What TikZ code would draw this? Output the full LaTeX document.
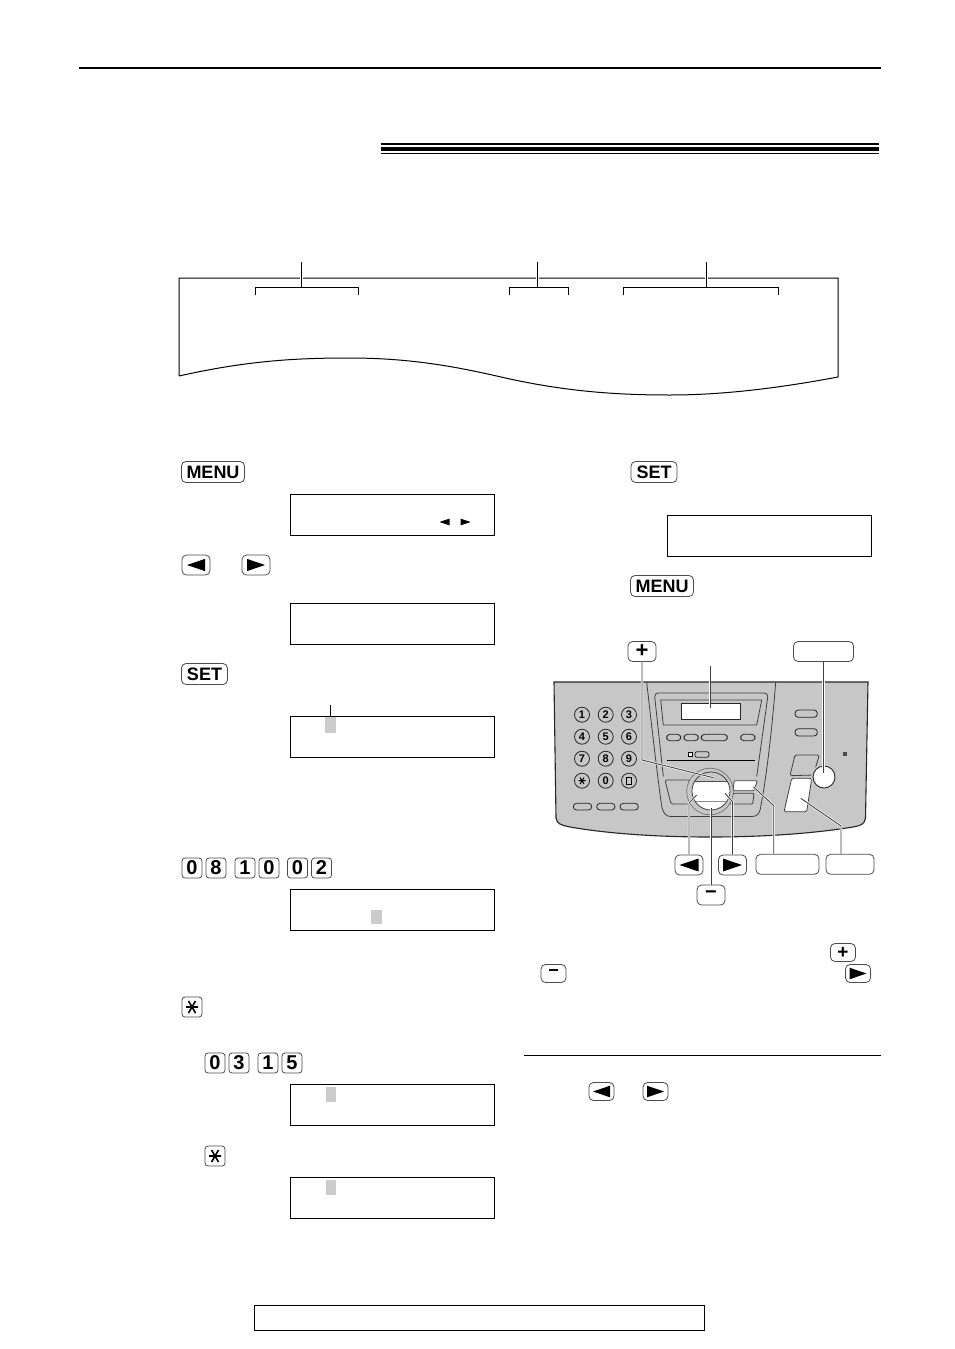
\documentclass[tikz,border=0pt]{standalone}
\usepackage{fontspec}
\setmainfont{Liberation Sans}
\definecolor{panelgray}{gray}{0.78}
\definecolor{cursorgray}{gray}{0.8}
\definecolor{keyedge}{gray}{0.3}
\tikzset{
  keybox/.style={draw=keyedge,line width=0.8pt,rounded corners=4.5pt,fill=white,inner sep=0pt,font=\bfseries\fontsize{18}{18}\selectfont},
  digitkey/.style={keybox,rounded corners=3pt,font=\bfseries\fontsize{20}{20}\selectfont},
  lcdbox/.style={draw=black,line width=1pt,fill=none},
  cursor/.style={fill=cursorgray,draw=none},
  pline/.style={draw=black,line width=1pt},
  partline/.style={draw=black!75,line width=0.8pt},
  wired/.style={draw=black!75,line width=0.9pt,preaction={draw=white,line width=2.2pt}},
  padkey/.style={circle,draw=black!85,line width=0.8pt,fill=panelgray,minimum size=15pt,inner sep=0pt,font=\bfseries\fontsize{11}{11}\selectfont},
  oval/.style={draw=black!85,line width=0.8pt,rounded corners=3.3pt,fill=panelgray},
  tip/.style={fill=black,draw=none}
}
\newcommand{\keyk}[6]{\node[keybox,minimum width=#4pt,minimum height=#5pt] (#1) at (#2,#3) {#6};}
\newcommand{\digit}[4]{\node[digitkey,minimum width=20pt,minimum height=20pt] (#1) at (#2,#3) {#4};}
\newcommand{\lefttip}[3]{\fill[tip] (#1-#3,#2) -- (#1+#3,#2-#3*0.68) -- (#1+#3,#2+#3*0.68) -- cycle;}
\newcommand{\righttip}[3]{\fill[tip] (#1+#3,#2) -- (#1-#3,#2-#3*0.68) -- (#1-#3,#2+#3*0.68) -- cycle;}
\newcommand{\starmark}[2]{\draw[black,line width=1.6pt] (#1-6,#2) -- (#1+6,#2) (#1-3.5,#2-6) -- (#1+3.5,#2+6) (#1+3.5,#2-6) -- (#1-3.5,#2+6);}
\newcommand{\lcd}[3]{\node[lcdbox,minimum width=204pt,minimum height=41pt,inner sep=0pt] (#1) at (#2,#3) {};}
\begin{document}
\begin{tikzpicture}[x=1pt,y=-1pt]
\path[use as bounding box,fill=white] (0,0) rectangle (954,1349);
% page furniture
\fill[black] (79,67.2) rectangle (881,68.8);
\fill[black] (381,143) rectangle (879,145.2);
\fill[black] (381,147) rectangle (879,151);
\fill[black] (381,152.8) rectangle (879,154);
\draw[black,line width=1pt] (254,1305.5) rectangle (704.5,1330.5);
% paper sample
\draw[pline] (179,376) -- (179,278) -- (838,278) -- (838,377)
  .. controls (790,386) and (730,395) .. (670,395)
  .. controls (620,395) and (570,392) .. (510,379)
  .. controls (470,370) and (420,358) .. (350,358)
  .. controls (300,358) and (250,360) .. (179,376);
\coordinate (ba) at (301.5,262); \coordinate (bb) at (537.5,262); \coordinate (bc) at (706,262);
\coordinate (baj) at (301.5,287.5); \coordinate (bbj) at (537.5,287.5); \coordinate (bcj) at (706,287.5);
\draw[pline,preaction={draw=white,line width=3pt}] (ba) -- (baj);
\draw[pline,preaction={draw=white,line width=3pt}] (bb) -- (bbj);
\draw[pline,preaction={draw=white,line width=3pt}] (bc) -- (bcj);
\draw[pline] (255,295) -- (255,287.5) -- (358.5,287.5) -- (358.5,295);
\draw[pline] (509,295) -- (509,287.5) -- (568.5,287.5) -- (568.5,295);
\draw[pline] (623.5,295) -- (623.5,287.5) -- (778.5,287.5) -- (778.5,295);
% LCD displays
\lcd{d1}{392.5}{515}
\lcd{d2}{392.5}{624}
\lcd{d3}{392.5}{737}
\lcd{d4}{392.5}{910}
\lcd{d5}{392.5}{1105}
\lcd{d6}{392.5}{1198}
\lcd{d7}{769.5}{536}
\fill[cursor] (325,717) rectangle (336,733);
\fill[cursor] (371,910) rectangle (382,924);
\fill[cursor] (326,1087) rectangle (336,1102);
\fill[cursor] (326,1180) rectangle (336,1195);
\lefttip{444.5}{522}{5}
\righttip{465.5}{522}{5}
\coordinate (ct) at (330.5,705); \coordinate (cb) at (330.5,717);
\draw[pline] (ct) -- (cb);
% left keys
\keyk{menua}{213}{472}{63}{21}{MENU}
\keyk{lefta}{196}{565}{28}{20}{}\lefttip{196}{565}{9}
\keyk{righta}{256}{565}{28}{20}{}\righttip{256}{565}{9}
\keyk{seta}{204.5}{674}{46}{21}{SET}
\digit{da}{192}{868}{0}\digit{db}{216}{868}{8}
\digit{dc}{245}{868}{1}\digit{dd}{269}{868}{0}
\digit{de}{297.5}{868}{0}\digit{df}{321.5}{868}{2}
\digit{stara}{192}{1007}{}\starmark{192}{1007}
\digit{dg}{215}{1063}{0}\digit{dh}{239}{1063}{3}
\digit{di}{268}{1063}{1}\digit{dj}{292}{1063}{5}
\digit{starb}{215}{1156}{}\starmark{215}{1156}
% right keys
\keyk{setb}{654}{472}{46}{21}{SET}
\keyk{menub}{662}{586}{63}{21}{MENU}
% fax panel
\fill[panelgray] (554,682) -- (868,682) -- (865.5,818) .. controls (865,824) and (860,826) .. (853,827)
  .. controls (810,834) and (760,837) .. (710,837)
  .. controls (660,837) and (610,834) .. (570,827)
  .. controls (561,825) and (557,824) .. (556,818) -- cycle;
\draw[black!85,line width=1.1pt] (556,818) -- (554,682) -- (868,682) -- (865.5,818) .. controls (865,824) and (860,826) .. (853,827)
  .. controls (810,834) and (760,837) .. (710,837)
  .. controls (660,837) and (610,834) .. (570,827)
  .. controls (561,825) and (557,824) .. (556,818);
\draw[partline] (646.7,682) .. controls (652,730) and (658,780) .. (661.5,805) .. controls (663,813) and (665,816.5) .. (672,816.5)
  -- (752,816.5) .. controls (758,816.5) and (760,813) .. (761,805) .. controls (766,780) and (772,730) .. (775.7,682);
% display housing
\draw[partline,rounded corners=4pt] (663.3,776.5) -- (654.3,693) -- (768.3,693) -- (756.7,776.5);
\draw[partline] (660.7,700) -- (761.7,700) -- (756.7,725) -- (663.3,725) -- cycle;
\draw[black!85,line width=0.9pt,fill=white] (681.7,703.3) rectangle (740,719.3);
\draw[oval] (666.7,734.3) rectangle (680.7,740.7);
\draw[oval] (684,734.3) rectangle (698.3,740.7);
\draw[oval] (701.3,734.3) rectangle (727.3,740.7);
\draw[oval] (740.7,734.3) rectangle (755,740.7);
\draw[black,line width=0.7pt,fill=white] (688.7,752.7) rectangle (692,756);
\draw[oval,rounded corners=2pt] (695,751.7) rectangle (709,757.3);
\fill[black] (667.3,760) rectangle (755,761.4);
% keypad
\node[padkey] (p1) at (582,714.7) {1};
\node[padkey] (p2) at (605.7,714.7) {2};
\node[padkey] (p3) at (629,714.7) {3};
\node[padkey] (p4) at (582,736.7) {4};
\node[padkey] (p5) at (605.7,736.7) {5};
\node[padkey] (p6) at (629,736.7) {6};
\node[padkey] (p7) at (582,758.7) {7};
\node[padkey] (p8) at (605.7,758.7) {8};
\node[padkey] (p9) at (629,758.7) {9};
\node[padkey] (pstar) at (582,780.7) {};
\draw[black,line width=1pt] (578.5,780.7) -- (585.5,780.7) (580,777.5) -- (584,784) (584,777.5) -- (580,784);
\node[padkey] (p0) at (605.7,780.7) {0};
\node[padkey] (phash) at (629,780.7) {};
\draw[black,line width=1pt] (626.5,777.5) rectangle (631.5,784);
\draw[oval] (573.3,803.3) rectangle (591.7,810);
\draw[oval] (596.7,803.3) rectangle (615,810);
\draw[oval] (620,803.3) rectangle (638.3,810);
\draw[oval] (795,710) rectangle (817.3,717.3);
\draw[oval] (795,728.7) rectangle (817.3,736);
% soft buttons around the dial
\draw[partline,rounded corners=1.5pt] (665,780) -- (690,780) -- (692,804) -- (671,804) -- cycle;
\draw[partline,fill=white,rounded corners=1pt] (734,780.7) -- (757.3,780.7) -- (754,790.7) -- (733.3,790.7) -- cycle;
\draw[partline,rounded corners=1pt] (733,793.3) -- (754,793.3) -- (752.7,804) -- (730,804) -- cycle;
% dial
\draw[draw=black!55,line width=0.7pt,fill=panelgray] (710,791.5) circle (23.3);
\fill[white] (711,791) circle (19);
\begin{scope}
\clip (711,791) circle (19);
\fill[panelgray] (685,765) rectangle (737,781.5);
\draw[black!70,line width=0.8pt] (685,781.5) -- (737,781.5);
\draw[black!45,line width=0.8pt] (685,801.7) -- (737,801.7);
\end{scope}
\draw[black!75,line width=0.8pt] (711,791) circle (19);
% right big buttons
\draw[partline,rounded corners=1.5pt] (795,755) -- (819.3,755) -- (813.3,775) -- (790,775.7) -- cycle;
\draw[partline,fill=white,rounded corners=1.5pt] (791.7,778.3) -- (811.7,778.3) -- (806.7,811.7) -- (784,811.7) -- cycle;
\fill[black!70] (843,752) rectangle (847,756);
\draw[black!85,line width=0.9pt,fill=white,preaction={draw=panelgray,line width=4pt}] (824,777) circle (11);
% panel callout keys
\keyk{kplus}{642}{651.5}{28}{20}{\fontsize{22}{22}\selectfont\raisebox{-0.5pt}{+}}
\keyk{koval}{823.5}{651.5}{60}{20}{}
\keyk{kleft}{689}{865}{28}{20}{}\lefttip{689}{865}{9.5}
\keyk{kright}{732.5}{865}{28}{20}{}\righttip{732.5}{865}{9.5}
\keyk{kminus}{711}{895}{28}{20}{\fontsize{20}{20}\selectfont\raisebox{-0.5pt}{−}}
\keyk{kwide}{787.5}{864.3}{63}{20}{}
\keyk{kshort}{850}{864.3}{48}{20}{}
% callout lines
\coordinate (lcdtop) at (710,666); \coordinate (lcdend) at (710,708);
\draw[wired] (lcdtop) -- (lcdend);
\coordinate (plusbend) at (642,760); \coordinate (plusend) at (713.3,777.7);
\draw[wired] (kplus.south) -- (plusbend) -- (plusend);
\coordinate (ovalend) at (823.5,773);
\draw[wired] (koval.south) -- (ovalend);
\coordinate (leftbend) at (689,803); \coordinate (leftend) at (696.7,795);
\draw[wired] (kleft.north) -- (leftbend) -- (leftend);
\coordinate (rightbend) at (732.5,801.7); \coordinate (rightend) at (725,793.3);
\draw[wired] (kright.north) -- (rightbend) -- (rightend);
\coordinate (minusend) at (711,808);
\draw[wired] (kminus.north) -- (minusend);
\coordinate (widebend) at (773.7,805.7); \coordinate (wideend) at (753.3,786.7);
\draw[wired] (kwide.north -| widebend) -- (widebend) -- (wideend);
\coordinate (shortbend) at (841,826); \coordinate (shortend) at (800.7,798.3);
\draw[wired] (kshort.north -| shortbend) -- (shortbend) -- (shortend);
% note keys
\keyk{nplus}{843}{952.5}{25}{18}{\fontsize{19}{19}\selectfont\raisebox{-0.5pt}{+}}
\keyk{nminus}{553.5}{973.5}{25}{18}{\fontsize{18}{18}\selectfont\raisebox{-0.5pt}{−}}
\keyk{nright}{858}{973.5}{25}{18}{}\righttip{858}{973.5}{8.5}
\coordinate (rula) at (524,1055); \coordinate (rulb) at (881,1055);
\draw[pline] (rula) -- (rulb);
\keyk{hleft}{601.5}{1091.5}{25}{18}{}\lefttip{601.5}{1091.5}{8.5}
\keyk{hright}{655.5}{1091.5}{25}{18}{}\righttip{655.5}{1091.5}{8.5}
\end{tikzpicture}
\end{document}
